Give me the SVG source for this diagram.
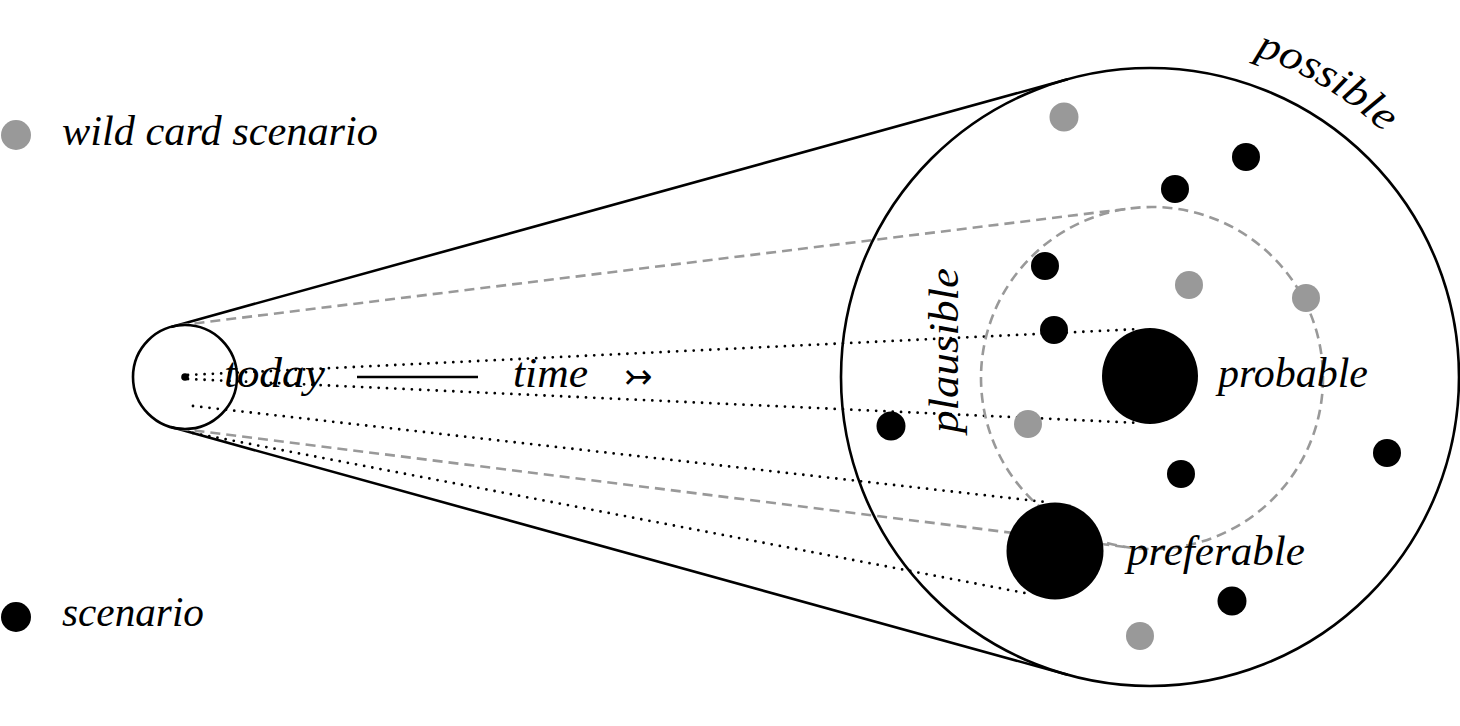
<svg xmlns="http://www.w3.org/2000/svg" width="1460" height="726" viewBox="0 0 1460 726">
<style>
.t{font-family:"Liberation Serif","Times New Roman",serif;font-style:italic;font-size:42px;fill:#000}
.solid{fill:none;stroke:#000;stroke-width:2.6}
.dash{fill:none;stroke:#999;stroke-width:2.6;stroke-dasharray:10 6}
.dot{fill:none;stroke:#000;stroke-width:2.8;stroke-dasharray:0 8.3;stroke-linecap:round}
.b{fill:#000}
.g{fill:#999}
</style>
<defs>
<path id="arcPossible" d="M1254.4,55.5 A338,338 0 0 1 1408.9,159.7"/>
</defs>
<rect width="1460" height="726" fill="#fff"/>
<g id="connectors">
<line class="solid" x1="171.2" y1="326.9" x2="1067.7" y2="79.2"/>
<line class="solid" x1="171.2" y1="427.1" x2="1067.7" y2="674.8"/>
<line class="dash" x1="178.6" y1="325.4" x2="1131" y2="208.3"/>
<line class="dash" x1="178.6" y1="428.6" x2="1131" y2="547.7"/>
<line class="dot" x1="188" y1="375" x2="1140" y2="329"/>
<line class="dot" x1="188" y1="379" x2="1140" y2="423"/>
<line class="dot" x1="193" y1="406" x2="1045" y2="502"/>
<line class="dot" x1="193" y1="433" x2="1030" y2="594"/>
<line class="solid" x1="357" y1="377" x2="478" y2="377" stroke-width="2"/>
</g>
<g id="possible">
<circle class="solid" cx="1150" cy="377" r="309"/>
<text class="t"><textPath href="#arcPossible" textLength="152" lengthAdjust="spacingAndGlyphs">possible</textPath></text>
</g>
<g id="plausible">
<circle class="dash" cx="1152" cy="378" r="171"/>
<text class="t" transform="translate(958,433) rotate(-90)" textLength="165" lengthAdjust="spacingAndGlyphs">plausible</text>
</g>
<g id="today">
<circle class="solid" cx="185" cy="377" r="52"/>
<circle class="b" cx="185" cy="377" r="3.8"/>
<text class="t" x="224" y="387" textLength="101" lengthAdjust="spacingAndGlyphs">today</text>
</g>
<g id="time">
<text class="t" x="513" y="387" textLength="75" lengthAdjust="spacingAndGlyphs">time</text>
<text x="624" y="388" font-family="DejaVu Sans,sans-serif" font-size="34" fill="#000">↣</text>
</g>
<g id="probable">
<circle class="b" cx="1150" cy="376" r="48"/>
<text class="t" x="1218" y="387" textLength="150" lengthAdjust="spacingAndGlyphs">probable</text>
</g>
<g id="preferable">
<circle class="b" cx="1055" cy="551" r="48.5"/>
<text class="t" x="1127" y="565" textLength="178" lengthAdjust="spacingAndGlyphs">preferable</text>
</g>
<g id="scenarios">
<circle class="g" cx="1064" cy="117" r="14.5"/>
<circle class="b" cx="1246" cy="157" r="14"/>
<circle class="b" cx="1175" cy="189" r="14"/>
<circle class="b" cx="1045" cy="266" r="14"/>
<circle class="g" cx="1189" cy="285" r="14"/>
<circle class="g" cx="1306" cy="298" r="14"/>
<circle class="b" cx="1054" cy="330" r="14"/>
<circle class="b" cx="891" cy="426" r="14.5"/>
<circle class="g" cx="1028" cy="424" r="14"/>
<circle class="b" cx="1181" cy="474" r="14"/>
<circle class="b" cx="1387" cy="453" r="14"/>
<circle class="b" cx="1232" cy="601" r="14.5"/>
<circle class="g" cx="1140" cy="636" r="14"/>
</g>
<g id="legend-wildcard">
<circle class="g" cx="16" cy="135" r="15"/>
<text class="t" x="62" y="145" textLength="316" lengthAdjust="spacingAndGlyphs">wild card scenario</text>
</g>
<g id="legend-scenario">
<circle class="b" cx="16" cy="617" r="15"/>
<text class="t" x="62" y="626" textLength="142" lengthAdjust="spacingAndGlyphs">scenario</text>
</g>
</svg>
